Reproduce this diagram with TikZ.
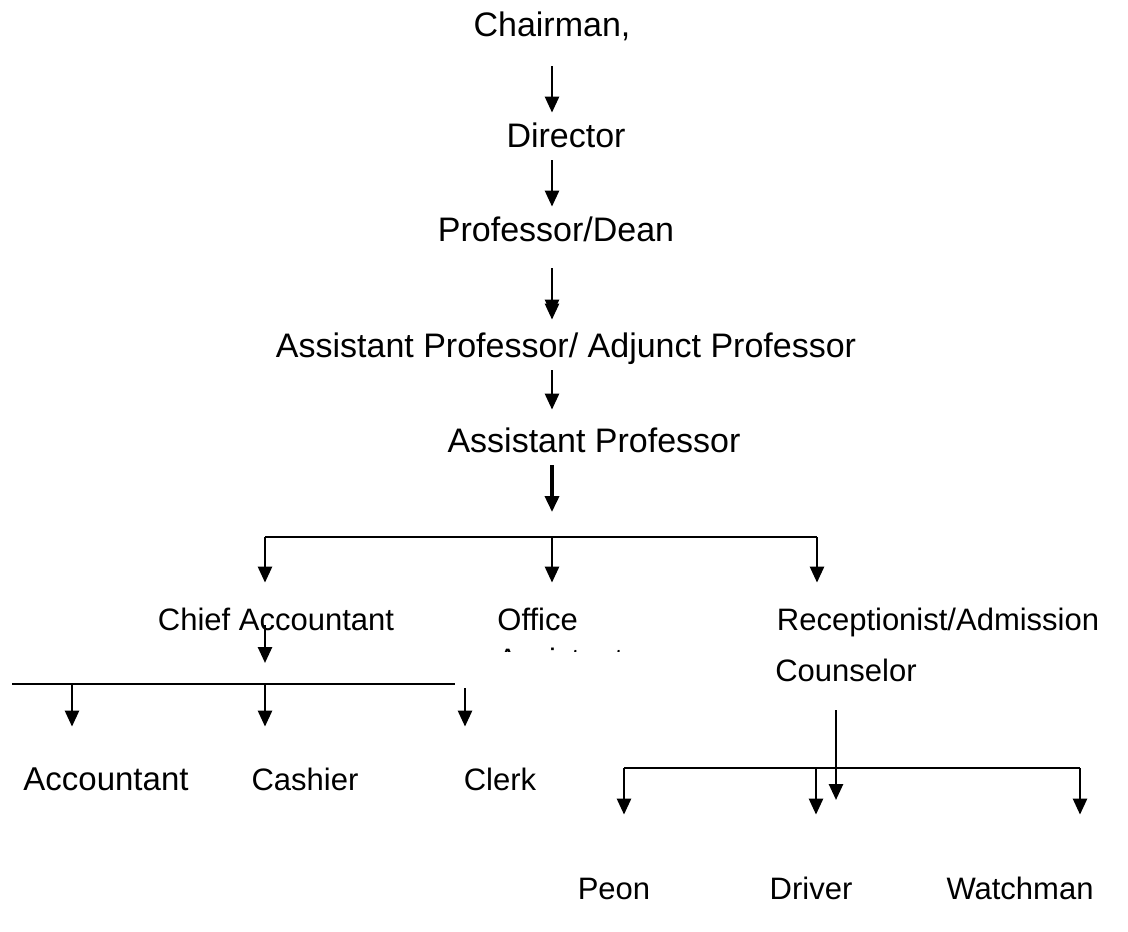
\documentclass[tikz,border=0pt]{standalone}
\usepackage{fontspec}
\setmainfont{Liberation Sans}
\usetikzlibrary{positioning, arrows.meta, calc}

\tikzset{
  toplabel/.style={inner sep=0pt, anchor=base, text height=12pt, text depth=3pt,
    font=\fontsize{17}{20}\selectfont},
  lowlabel/.style={inner sep=0pt, anchor=base, text height=12pt, text depth=3pt,
    font=\fontsize{15.5}{18}\selectfont},
  link/.style={line width=1.3pt},
  down/.style={link, -{Triangle[width=7pt,length=8pt]}},
}

\begin{document}
\begin{tikzpicture}[x=0.5pt, y=-0.5pt]
  \useasboundingbox (0,0) rectangle (1128,931);

  % main chain
  \node[toplabel] (chair) at (552,37) {Chairman,};
  \node[toplabel] (dir) at (566,148) {Director};
  \node[toplabel] (dean) at (556,241) {Professor/Dean};
  \node[toplabel] (adjunct) at (566,357) {Assistant Professor/ Adjunct Professor};
  \node[toplabel] (asst) at (594,452) {Assistant Professor};

  \coordinate (spine) at (552,0);
  \coordinate (hub1) at (552,537);
  \coordinate (b1w) at (265,537);
  \coordinate (b1e) at (817,537);

  \draw[down, shorten <=11.5pt, shorten >=5.5pt] (chair.south) -- (spine |- dir.north);
  \draw[down, shorten <=3pt, shorten >=5pt] (spine |- dir.south) -- (spine |- dean.north);
  \draw[down, shorten <=10.5pt, shorten >=6.5pt] (spine |- dean.south) -- (spine |- adjunct.north);
  \draw[down, shorten <=10.5pt, shorten >=8.5pt] (spine |- dean.south) -- (spine |- adjunct.north);
  \draw[down, shorten <=3.5pt, shorten >=9pt] (spine |- adjunct.south) -- (spine |- asst.north);
  \draw[down, line width=1.8pt, shorten <=3.5pt, shorten >=12.5pt] (spine |- asst.south) -- (hub1);

  % second level
  \node[lowlabel] (chief) at (276,630) {Chief Accountant};
  \node[lowlabel, anchor=base west] (office) at (497,630) {Office};
  \begin{scope}
    \clip (480,640) rectangle (640,651);
    \node[lowlabel, anchor=base west] (officeb) at (497,670) {Assistant};
  \end{scope}
  \node[lowlabel] (recep) at (938,630) {Receptionist/Admission};
  \node[lowlabel] (couns) at (846,681) {Counselor};

  \draw[link] (b1w) -- (b1e);
  \draw[down, shorten >=11.5pt] (b1w) -- (b1w |- chief.north);
  \draw[down, shorten >=11.5pt] (hub1) -- (hub1 |- office.north);
  \draw[down, shorten >=11.5pt] (b1e) -- (b1e |- recep.north);

  % accounts branch
  \coordinate (b2w) at (12,684);
  \coordinate (b2e) at (455,684);
  \coordinate (b2a) at (72,684);
  \coordinate (b2m) at (265,684);
  \coordinate (b2c) at (465,688);

  \node[lowlabel, font=\fontsize{16.5}{19}\selectfont] (acct) at (106,790) {Accountant};
  \node[lowlabel] (cash) at (305,790) {Cashier};
  \node[lowlabel] (clerk) at (500,790) {Clerk};

  \draw[down, shorten <=-5.5pt, shorten >=10.5pt] (b2m |- chief.south) -- (b2m);
  \draw[link] (b2w) -- (b2e);
  \draw[down, shorten >=19.5pt] (b2a) -- (b2a |- acct.north);
  \draw[down, shorten >=19.5pt] (b2m) -- (b2m |- cash.north);
  \draw[down, shorten >=19.5pt] (b2c) -- (b2c |- clerk.north);

  % reception branch
  \coordinate (b3hub) at (836,768);
  \coordinate (b3w) at (624,768);
  \coordinate (b3m) at (816,768);
  \coordinate (b3e) at (1080,768);

  \node[lowlabel] (peon) at (614,899) {Peon};
  \node[lowlabel] (driver) at (811,899) {Driver};
  \node[lowlabel] (watch) at (1020,899) {Watchman};

  \draw[link] (b3w) -- (b3e);
  \draw[down, shorten <=11.5pt, shorten >=-16pt] (b3hub |- couns.south) -- (b3hub);
  \draw[down, shorten >=30pt] (b3w) -- (b3w |- peon.north);
  \draw[down, shorten >=30pt] (b3m) -- (b3m |- driver.north);
  \draw[down, shorten >=30pt] (b3e) -- (b3e |- watch.north);
\end{tikzpicture}
\end{document}
